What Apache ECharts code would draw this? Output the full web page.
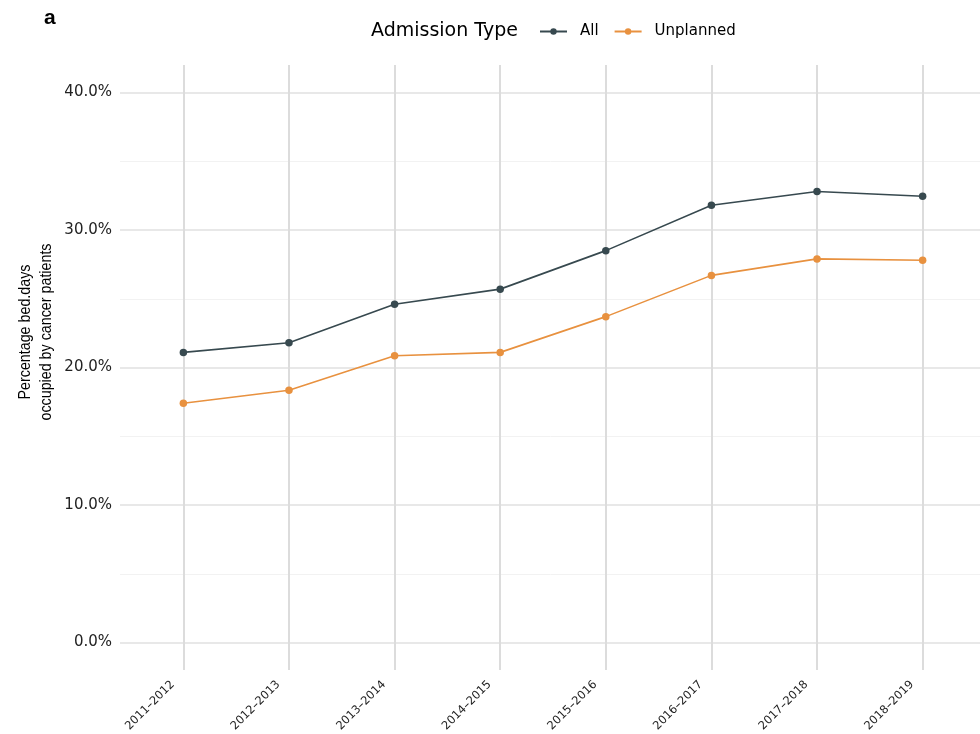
<!DOCTYPE html>
<html><head><meta charset="utf-8">
<script src="https://cdn.jsdelivr.net/npm/echarts@6/dist/echarts.min.js"></script>
<style>html,body{margin:0;padding:0;background:#fff}#c{width:980px;height:734px}</style>
</head><body><div id="c"></div>
<script>
const categories = ['2011–2012','2012–2013','2013–2014','2014–2015','2015–2016','2016–2017','2017–2018','2018–2019'];
const allValues = [21.1, 21.8, 24.6, 25.7, 28.5, 31.8, 32.8, 32.45];
const unplannedValues = [17.4, 18.35, 20.85, 21.1, 23.7, 26.7, 27.9, 27.8];
const majorTicks = [0, 10, 20, 30, 40];
const minorTicks = [5, 15, 25, 35];
const seriesNames = ['All', 'Unplanned'];

const chart = echarts.init(document.getElementById('c'), null, {renderer: 'canvas'});
const idx = categories.map((c, i) => i);
const font = 'DejaVu Sans';

chart.setOption({
  animation: false,
  backgroundColor: '#fff',
  title: [
    {text: 'a', left: 39, top: 3, textStyle: {fontFamily: 'Liberation Sans', fontWeight: 'bold', fontSize: 21, color: '#000'}},
    {text: 'Admission Type', left: 366, top: 17, textStyle: {fontFamily: font, fontWeight: 'normal', fontSize: 19, color: '#000'}}
  ],
  legend: {
    left: 534, top: 19, itemWidth: 27, itemHeight: 8, itemGap: 15,
    data: seriesNames,
    textStyle: {fontFamily: font, fontSize: 15, color: '#000', padding: [0, 0, 0, 8]}
  },
  graphic: [{
    type: 'text', x: 36, y: 332, rotation: Math.PI / 2, scaleX: 0.84,
    style: {text: 'Percentage bed.days\noccupied by cancer patients', fontFamily: 'Liberation Sans', fontSize: 17, lineHeight: 21, fill: '#000', align: 'center', verticalAlign: 'middle'}
  }],
  grid: {left: 120, top: 65, width: 866, height: 605, outerBoundsMode: 'none', containLabel: false},
  xAxis: {
    type: 'value', min: -0.6, max: 7.6,
    axisLine: {show: false}, axisTick: {show: false}, splitLine: {show: false},
    axisLabel: {customValues: idx, formatter: v => categories[Math.round(v)], rotate: 45, margin: 2,
      padding: [0, 15, 0, 0], fontFamily: font, fontSize: 11.5, color: '#222'}
  },
  yAxis: {
    type: 'value', min: -2, max: 42,
    axisLine: {show: false}, axisTick: {show: false}, splitLine: {show: false},
    axisLabel: {customValues: majorTicks, formatter: v => v.toFixed(1) + '%', margin: 8,
      fontFamily: font, fontSize: 15, color: '#222'}
  },
  series: [
    {
      type: 'line', name: '_grid', data: [], silent: true, z: 1, legendHoverLink: false,
      markLine: {
        silent: true, z: 1, symbol: ['none', 'none'], label: {show: false}, animation: false,
        data: [
          ...minorTicks.map(v => ({yAxis: v, lineStyle: {color: '#f2f2f2', width: 1, type: 'solid'}})),
          ...majorTicks.map(v => ({yAxis: v, lineStyle: {color: '#e0e0e0', width: 1.6, type: 'solid'}})),
          ...idx.map(v => ({xAxis: v, lineStyle: {color: '#dcdcdc', width: 2, type: 'solid'}}))
        ]
      }
    },
    {
      type: 'line', name: seriesNames[0], z: 3,
      data: allValues.map((v, i) => [i, v]),
      color: '#37494f', symbol: 'circle', symbolSize: 7.5,
      lineStyle: {width: 1.6, color: '#37494f'}, itemStyle: {color: '#37494f'}
    },
    {
      type: 'line', name: seriesNames[1], z: 3,
      data: unplannedValues.map((v, i) => [i, v]),
      color: '#e8913f', symbol: 'circle', symbolSize: 7.5,
      lineStyle: {width: 1.6, color: '#e8913f'}, itemStyle: {color: '#e8913f'}
    }
  ]
});
</script></body></html>
